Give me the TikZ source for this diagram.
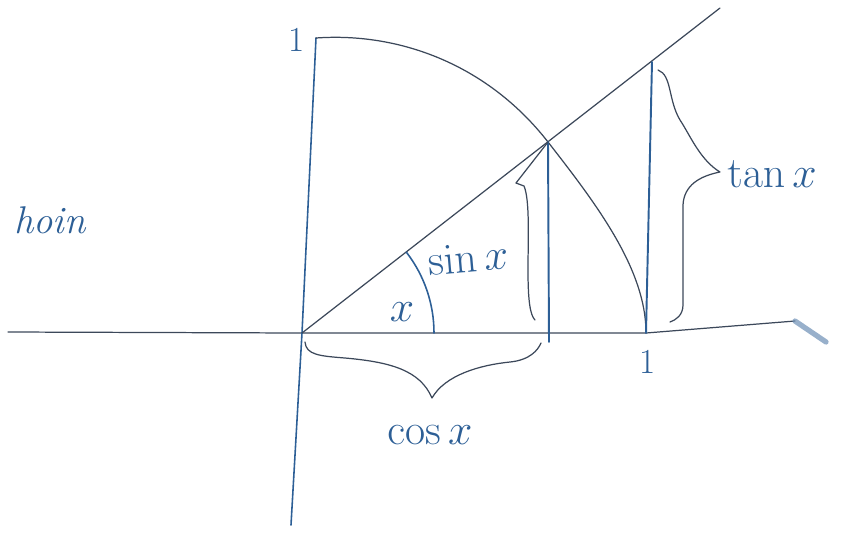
\documentclass[tikz,border=0pt]{standalone}
\usepackage{xcolor}
\usepackage{tikz}
\usetikzlibrary{arrows.meta,positioning}
\definecolor{inkblue}{RGB}{45,95,150}
\definecolor{inkdark}{RGB}{60,72,90}

\begin{document}
\begin{tikzpicture}[
  x=0.02cm, y=-0.02cm,
  ink/.style={draw=inkblue, line width=0.9pt, line cap=round},
  pencil/.style={draw=inkdark, line width=0.7pt, line cap=round, line join=round},
  lbl/.style={text=inkblue, font=\fontsize{24}{28}\selectfont, inner sep=1pt},
  one/.style={text=inkblue, font=\fontsize{20}{24}\selectfont, inner sep=1pt}
]
\useasboundingbox (0,0) rectangle (852,535);

% axes and main points
\coordinate (O) at (302,333);
\coordinate (ytop) at (316,38);
\coordinate (ybot) at (291,525);
\coordinate (xleft) at (8,332);
\coordinate (xright) at (795,321);
\coordinate (smudge) at (826,342);
\coordinate (A) at (646,333);
\coordinate (P) at (548,142);
\coordinate (Pfoot) at (549,342);
\coordinate (T) at (652,62);
\coordinate (rayend) at (720,8);

\draw[pencil] (xleft) -- (O) -- (A) -- (xright);
\draw[draw=inkblue!70, line width=3pt, line cap=round, opacity=0.7] (xright) -- (smudge);
\draw[ink] (ytop) -- (O) -- (ybot);

% quarter circle
\draw[pencil] (ytop) .. controls (400,32) and (488,65) .. (P)
  .. controls (598,206) and (646,270) .. (A);

% ray, sine and tangent segments
\draw[pencil] (O) -- (rayend);
\draw[ink, line width=1.1pt] (P) -- (Pfoot);
\draw[ink, line width=1.1pt] (T) -- (A);

% angle mark
\draw[ink] (434,333) arc[start angle=0, end angle=-37.8, radius=132];

% braces
\draw[pencil] (P) -- (516,183) -- (524,186) .. controls (530,200) and (528,240) .. (528,270)
  .. controls (528,300) and (530,315) .. (535,320);
\draw[pencil] (305,342) .. controls (306,355) and (320,356) .. (345,358)
  .. controls (390,362) and (420,370) .. (432,398)
  .. controls (445,375) and (480,365) .. (510,362)
  .. controls (530,360) and (538,350) .. (541,343);
\draw[pencil] (658,70) .. controls (672,75) and (668,100) .. (680,120)
  .. controls (690,135) and (700,160) .. (720,172)
  .. controls (700,176) and (684,185) .. (683,205) -- (683,305)
  .. controls (683,315) and (676,320) .. (670,322);

% labels
\node[one] (oneY) at (297,40) {1};
\node[one] (oneX) at (648,362) {1};
\node[lbl] (angx) at (402,312) {$x$};
\node[lbl, rotate=5] (sinlbl) at (468,258) {$\sin x$};
\node[lbl] (coslbl) at (430,435) {$\cos x$};
\node[lbl] (tanlbl) at (772,174) {$\tan x$};
\node[lbl, text=inkblue, font=\fontsize{22}{26}\selectfont\itshape] (hoin) at (50,220) {hoin};
\end{tikzpicture}
\end{document}
